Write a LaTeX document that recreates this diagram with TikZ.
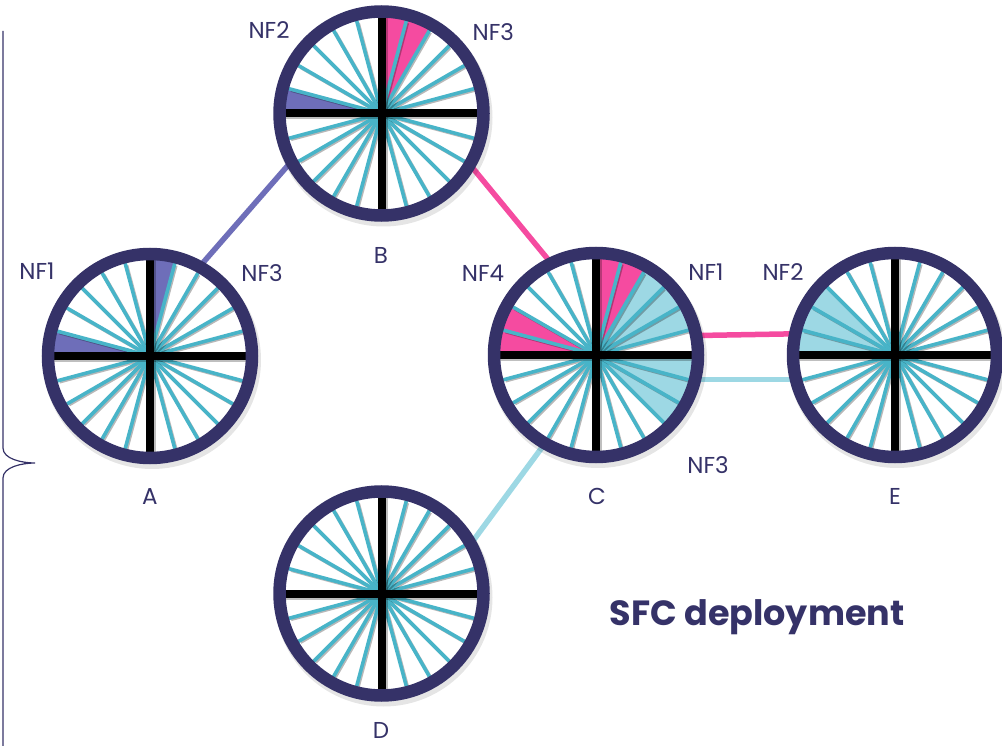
\documentclass[tikz,border=0pt]{standalone}
\usepackage{fontspec}
\setmainfont{Poppins}
\usetikzlibrary{backgrounds}

\definecolor{navy}{RGB}{53,50,104}
\definecolor{spokecol}{RGB}{72,180,200}
\definecolor{pinkc}{RGB}{245,75,160}
\definecolor{purplec}{RGB}{110,110,185}
\definecolor{lightbluec}{RGB}{157,216,228}

\tikzset{
  ring/.style={circle, draw=navy, line width=12.5pt, minimum size=204pt,
    inner sep=0pt, outer sep=0pt},
  spokeline/.style={draw=spokecol, line width=3.6pt},
  spokeshade/.style={draw=black, opacity=0.28, line width=3.4pt},
  crossline/.style={draw=black, line width=8pt},
  label/.style={text=navy, font=\fontsize{23}{25}\selectfont, anchor=base, inner sep=0pt},
  link/.style={line width=5.5pt},
  brace/.style={draw=navy, line width=1.2pt}
}

% one wheel: named ring node, coloured sectors, spokes and the black cross
% #1 name, #2 centre, #3 sector fills
\newcommand\wheelat[3]{%
  \begin{scope}[shift={#2}]
    \fill[black, opacity=0.10] (2,-4) circle[radius=109];
    \fill[white] (0,0) circle[radius=100];
    #3
    \foreach \a in {15,30,45,60,75,105,120,135,150,165,195,210,225,240,255,285,300,315,330,345}{
      \draw[spokeshade] (1.3,-1.3) -- ++(\a:95);
      \draw[spokeline] (0,0) -- (\a:96);
    }
    \draw[black, opacity=0.25, line width=8pt] (-96,-2) -- (96,-2);
    \draw[black, opacity=0.25, line width=8pt] (2,-96) -- (2,96);
    \draw[crossline] (-96,0) -- (96,0);
    \draw[crossline] (0,-96) -- (0,96);
  \end{scope}
  \node[ring] (#1) at #2 {};
}
\newcommand\sector[3]{\fill[#1] (0,0) -- (#2:97) arc[start angle=#2, end angle=#3, radius=97] -- cycle;}

\begin{document}
\begin{tikzpicture}[x=1pt, y=1pt]
  \useasboundingbox (0,0) rectangle (1002,-746);

  % wheels
  \wheelat{A}{(150,-356)}{\sector{purplec}{75}{90}\sector{purplec}{165}{180}}
  \wheelat{B}{(381.5,-113.5)}{\sector{pinkc}{60}{90}\sector{purplec}{165}{180}}
  \wheelat{C}{(596,-355)}{\sector{pinkc}{60}{90}\sector{lightbluec}{15}{60}\sector{pinkc}{150}{180}\sector{lightbluec}{-45}{0}}
  \wheelat{E}{(895,-355)}{\sector{lightbluec}{135}{180}}
  \wheelat{D}{(381.5,-593.5)}{}

  % links between the wheels
  \begin{scope}[on background layer]
    \draw[link, purplec] (A.61.7) -- (B.208.6);
    \draw[link, pinkc] (B.-30.5) -- (C.116.6);
    \draw[link, pinkc] (C.11.7) -- (E.168.3);
    \draw[link, lightbluec] (C.-14.8) -- (E.194.8);
    \draw[link, lightbluec] (C.240) -- (D.29.7);
  \end{scope}

  % wheel names
  \node[label] (lA) at (150,-504.5) {A};
  \node[label] (lB) at (381,-263.5) {B};
  \node[label] (lC) at (597,-504.5) {C};
  \node[label] (lD) at (381,-738) {D};
  \node[label] (lE) at (895,-504.5) {E};

  % network functions
  \node[label] (b2) at (269,-38.3) {NF2};
  \node[label] (b3) at (493.3,-40.5) {NF3};
  \node[label] (a1) at (37,-279.5) {NF1};
  \node[label] (a3) at (262,-281.5) {NF3};
  \node[label] (c4) at (483,-281.5) {NF4};
  \node[label] (c1) at (706,-280.5) {NF1};
  \node[label] (e2) at (783,-280.5) {NF2};
  \node[label] (c3) at (708,-473.5) {NF3};

  \node[text=navy, font=\fontsize{35}{38}\selectfont\bfseries, anchor=base, inner sep=0pt]
    (title) at (757,-625) {SFC deployment};

  % brace on the left edge
  \draw[brace] (3,-31) -- (3,-448)
    .. controls (3,-459) and (22,-463) .. (35,-463)
    .. controls (22,-463) and (3,-467) .. (3,-478) -- (3,-746);
\end{tikzpicture}
\end{document}
